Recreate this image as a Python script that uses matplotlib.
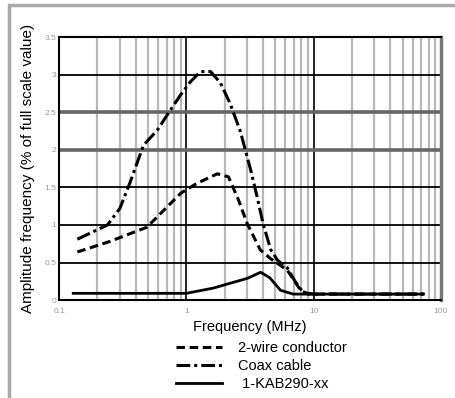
import matplotlib
matplotlib.use('Agg')
import matplotlib.pyplot as plt
from matplotlib.patches import Rectangle

plt.rcParams['font.family'] = ['Liberation Sans', 'DejaVu Sans']

# 2-wire conductor (dashed)
wire_f = [0.139, 0.25, 0.49, 0.9, 1.2, 1.75, 2.14, 2.57, 3.0, 3.8, 4.6, 6.2, 7.9, 9.0, 20, 73]
wire_v = [0.64, 0.78, 0.97, 1.42, 1.55, 1.68, 1.64, 1.33, 1.02, 0.67, 0.55, 0.4, 0.13, 0.08, 0.08, 0.08]

# Coax cable (dash-dot)
coax_f = [0.139, 0.24, 0.30, 0.36, 0.46, 0.59, 0.75, 0.9, 1.07, 1.29, 1.55, 1.85, 2.2, 2.66,
          3.2, 3.6, 4.0, 4.6, 5.2, 6.2, 7.2, 8.3, 10, 73]
coax_v = [0.81, 1.0, 1.22, 1.56, 2.06, 2.26, 2.53, 2.73, 2.9, 3.04, 3.04, 2.89, 2.62, 2.24,
          1.73, 1.37, 1.02, 0.67, 0.53, 0.43, 0.24, 0.1, 0.08, 0.08]

# 1-KAB290-xx (solid)
kab_f = [0.129, 1.0, 1.63, 3.02, 3.83, 4.5, 5.5, 6.9, 10, 73]
kab_v = [0.09, 0.09, 0.16, 0.29, 0.37, 0.3, 0.13, 0.08, 0.08, 0.08]

x_ticks = [0.1, 1, 10, 100]
x_labels = ['0.1', '1', '10', '100']
y_ticks = [0, 0.5, 1, 1.5, 2, 2.5, 3, 3.5]
y_labels = ['0', '0.5', '1', '1.5', '2', '2.5', '3', '3.5']

fig = plt.figure(figsize=(4.55, 3.98), dpi=100)
fig.patches.append(Rectangle((0.02, -0.1), 1.2, 1.087, transform=fig.transFigure,
                             fill=False, edgecolor='#aaaaaa', linewidth=2.5))

ax = fig.add_axes([0.130, 0.246, 0.839, 0.661])
ax.set_xscale('log')
ax.set_xlim(0.1, 100)
ax.set_ylim(0, 3.5)

# grid
for dec in [0.1, 1, 10]:
    for m in range(2, 10):
        ax.axvline(dec * m, color='#b8b8b8', lw=1.6, zorder=1)
ax.axvline(1, color='black', lw=1.2, zorder=1)
ax.axvline(10, color='black', lw=1.2, zorder=1)
for yv in y_ticks[1:-1]:
    if yv in (2, 2.5):
        ax.axhline(yv, color='#666666', lw=2.6, zorder=1)
    else:
        ax.axhline(yv, color='black', lw=1.3, zorder=1)

ax.plot(wire_f, wire_v, color='black', lw=2.2, dashes=(2.8, 1.5), zorder=3,
        label='2-wire conductor')
ax.plot(coax_f, coax_v, color='black', lw=2.2, dashes=(4.5, 1.3, 1.0, 1.3), zorder=3,
        label='Coax cable')
ax.plot(kab_f, kab_v, color='black', lw=2.0, zorder=4, label=' 1-KAB290-xx')

ax.set_xticks(x_ticks)
ax.set_xticklabels(x_labels)
ax.set_xticks([], minor=True)
ax.set_yticks(y_ticks)
ax.set_yticklabels(y_labels)
ax.tick_params(length=0, labelsize=6, labelcolor='#999999', pad=2)
ax.tick_params(axis='x', pad=6)
for s in ax.spines.values():
    s.set_linewidth(1.5)
ax.spines['right'].set_color('#777777')
ax.spines['right'].set_linewidth(2.5)

ax.set_xlabel('Frequency (MHz)', fontsize=10.5, labelpad=3)
ax.set_ylabel('Amplitude frequency (% of full scale value)', fontsize=11, labelpad=7)

ax.legend(loc='upper left', bbox_to_anchor=(0.29, -0.135), frameon=False,
          fontsize=10.5, handlelength=3.2, labelspacing=0.25, handletextpad=1.1,
          borderaxespad=0)

fig.savefig('out.png', dpi=100)
